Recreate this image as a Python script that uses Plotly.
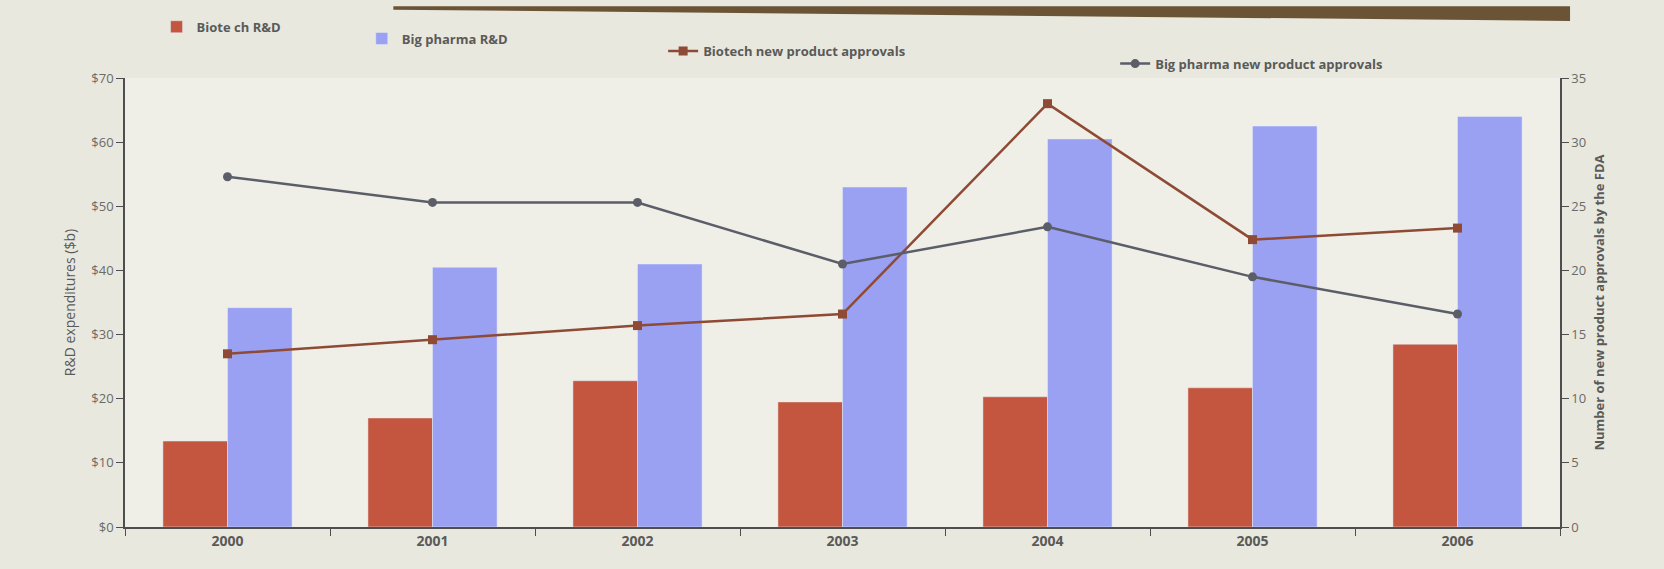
import plotly.graph_objects as go

years = ["2000", "2001", "2002", "2003", "2004", "2005", "2006"]
biotech_rd = [13.4, 17.0, 22.8, 19.5, 20.3, 21.7, 28.5]
pharma_rd = [34.2, 40.5, 41.0, 53.0, 60.5, 62.5, 64.0]
biotech_approvals = [13.5, 14.6, 15.7, 16.6, 33.0, 22.4, 23.3]
pharma_approvals = [27.3, 25.3, 25.3, 20.5, 23.4, 19.5, 16.6]

left_ticks = [0, 10, 20, 30, 40, 50, 60, 70]
left_labels = ["$" + str(v) for v in left_ticks]
right_ticks = [0, 5, 10, 15, 20, 25, 30, 35]

RED = "#c4563f"
BLUE = "#9aa0f2"
RED_LINE = "#8e4a34"
GREY_LINE = "#5b5d68"
TXT = "#5a5a58"
AX = "#4e4e4e"
FONT = "Open Sans"

fig = go.Figure()
fig.add_trace(go.Bar(x=years, y=biotech_rd, name="Biote ch R&D", marker_color=RED,
                     legend="legend"))
fig.add_trace(go.Bar(x=years, y=pharma_rd, name="Big pharma R&D", marker_color=BLUE,
                     legend="legend2"))
fig.add_trace(go.Scatter(x=years, y=biotech_approvals, name="Biotech new product approvals",
                         yaxis="y2", mode="lines+markers",
                         line=dict(color=RED_LINE, width=2.5),
                         marker=dict(symbol="square", size=9, color=RED_LINE),
                         legend="legend3"))
fig.add_trace(go.Scatter(x=years, y=pharma_approvals, name="Big pharma new product approvals",
                         yaxis="y2", mode="lines+markers",
                         line=dict(color=GREY_LINE, width=2.5),
                         marker=dict(symbol="circle", size=9, color=GREY_LINE),
                         legend="legend4"))

legend_common = dict(orientation="h", yanchor="middle", xanchor="left",
                     bgcolor="rgba(0,0,0,0)",
                     font=dict(family=FONT, size=13, color=TXT, weight="bold"))

fig.update_layout(
    width=1664, height=569,
    margin=dict(l=125, r=104, t=72, b=42),
    paper_bgcolor="#e8e8df",
    plot_bgcolor="#efefe8",
    showlegend=True,
    barmode="group",
    bargap=0.37,
    bargroupgap=0.0,
    font=dict(family=FONT, color=TXT),
    legend=dict(x=0.022, y=1.114, **legend_common),
    legend2=dict(x=0.165, y=1.088, **legend_common),
    legend3=dict(x=0.375, y=1.06, **legend_common),
    legend4=dict(x=0.69, y=1.032, **legend_common),
    xaxis=dict(
        showline=True, linecolor=AX, linewidth=1.5,
        ticks="outside", tickson="boundaries", ticklen=7, tickcolor=AX,
        tickfont=dict(family=FONT, size=14, color=TXT, weight="bold"),
        showgrid=False,
    ),
    yaxis=dict(
        range=[0, 70], tickvals=left_ticks, ticktext=left_labels,
        showline=True, linecolor=AX, linewidth=1.5,
        ticks="outside", ticklen=7, tickcolor=AX,
        tickfont=dict(family=FONT, size=13, color="#6a6a68"),
        showgrid=False, zeroline=False,
        title=dict(text="R&D expenditures ($b)", standoff=12,
                   font=dict(family=FONT, size=14, color=TXT)),
    ),
    yaxis2=dict(
        overlaying="y", side="right", range=[0, 35], tickvals=right_ticks,
        showline=True, linecolor=AX, linewidth=1.5,
        ticks="outside", ticklen=7, tickcolor=AX,
        tickfont=dict(family=FONT, size=13, color="#6a6a68"),
        showgrid=False, zeroline=False,
        title=dict(text="Number of new product approvals by the FDA", standoff=10,
                   font=dict(family=FONT, size=13, color=TXT, weight="bold")),
    ),
)

# slide frame edge (decorative wedge at top)
fig.add_shape(type="path", xref="paper", yref="paper",
              path="M 0.187 1.16 L 1.007 1.16 L 1.007 1.127 L 0.187 1.152 Z",
              fillcolor="#6b5436", line=dict(width=0), layer="below")

fig.write_html("out.html")
